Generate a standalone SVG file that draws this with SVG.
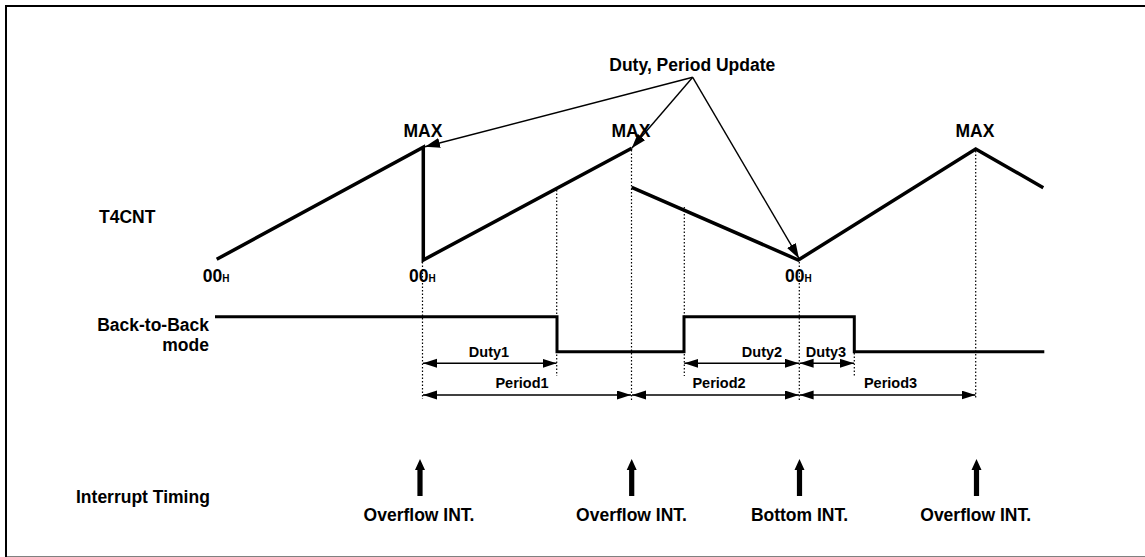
<svg xmlns="http://www.w3.org/2000/svg" width="1145" height="557" viewBox="0 0 1145 557">
<style>
text{font-family:"Liberation Sans",Arial,sans-serif;font-weight:bold;fill:#000}
.lbl{font-size:17.5px}
.dim{font-size:14.5px}
.wave{fill:none;stroke:#000;stroke-width:3.5;stroke-linejoin:miter}
.sq{fill:none;stroke:#000;stroke-width:3}
.dot{stroke:#000;stroke-width:1.2;stroke-dasharray:1.5 2;fill:none}
.call{stroke:#000;stroke-width:1.4;fill:none;marker-end:url(#ah)}
.dimln{stroke:#000;stroke-width:1.6;fill:none;marker-start:url(#dh);marker-end:url(#dh)}
</style>
<defs>
<marker id="ah" markerUnits="userSpaceOnUse" markerWidth="16" markerHeight="11" refX="15" refY="5" orient="auto"><path d="M0,0 L15,5 L0,10 z" fill="#000"/></marker>
<marker id="dh" markerUnits="userSpaceOnUse" markerWidth="15" markerHeight="10" refX="14" refY="4.5" orient="auto-start-reverse"><path d="M0,0 L14,4.5 L0,9 z" fill="#000"/></marker>
<path id="intarrow" d="M-2.6,496 L-2.6,470 L-5,470 L0,459 L5,470 L2.6,470 L2.6,496 z" fill="#000"/>
</defs>
<rect x="6" y="6" width="1150" height="551.5" fill="#fff" stroke="#000" stroke-width="2"/>

<g id="labels-left">
<text class="lbl" x="99" y="223.3">T4CNT</text>
<text class="lbl" x="209" y="330.7" text-anchor="end">Back-to-Back</text>
<text class="lbl" x="209" y="350.7" text-anchor="end">mode</text>
<text class="lbl" x="76" y="502.5">Interrupt Timing</text>
</g>

<g id="counter">
<polyline class="wave" points="216.7,259.3 423.3,147.3 423.3,260 631.7,148.3"/>
<polyline class="wave" points="631.7,187.3 798.3,260 975.7,149 1043.3,187.7"/>
<text class="lbl" x="423" y="137" text-anchor="middle">MAX</text>
<text class="lbl" x="631" y="137" text-anchor="middle">MAX</text>
<text class="lbl" x="975" y="137" text-anchor="middle">MAX</text>
<text class="lbl" x="202.7" y="281.7">00<tspan font-size="10">H</tspan></text>
<text class="lbl" x="409" y="281.7">00<tspan font-size="10">H</tspan></text>
<text class="lbl" x="785" y="281.7">00<tspan font-size="10">H</tspan></text>
</g>

<g id="update">
<text class="lbl" x="609.3" y="70.7">Duty, Period Update</text>
</g>

<g id="backtoback">
<polyline class="sq" points="215,316.7 557,316.7 557,351.7 684,351.7 684,316.7 854.3,316.7 854.3,351.7 1044.3,351.7"/>
</g>

<g id="guides">
<line class="dot" x1="422.5" y1="262" x2="422.5" y2="399"/>
<line class="dot" x1="556.7" y1="190" x2="556.7" y2="376"/>
<line class="dot" x1="631.5" y1="150" x2="631.5" y2="400"/>
<line class="dot" x1="684.3" y1="207" x2="684.3" y2="376"/>
<line class="dot" x1="799.3" y1="262" x2="799.3" y2="400"/>
<line class="dot" x1="854.3" y1="353" x2="854.3" y2="376"/>
<line class="dot" x1="975.7" y1="151" x2="975.7" y2="399"/>
</g>

<g id="connectors">
<line class="call" x1="692.7" y1="77.3" x2="425" y2="146.7"/>
<line class="call" x1="692.7" y1="77.3" x2="631.7" y2="148.3"/>
<line class="call" x1="692.7" y1="77.3" x2="799" y2="258.5"/>
<line class="dimln" x1="423" y1="363.3" x2="556.5" y2="363.3"/>
<line class="dimln" x1="684.3" y1="363.3" x2="799" y2="363.3"/>
<line class="dimln" x1="799.6" y1="363.3" x2="854" y2="363.3"/>
<line class="dimln" x1="423" y1="395" x2="631" y2="395"/>
<line class="dimln" x1="632" y1="395" x2="799" y2="395"/>
<line class="dimln" x1="799.6" y1="395" x2="975.5" y2="395"/>
</g>

<g id="dim-labels">
<text class="dim" x="489" y="356.7" text-anchor="middle">Duty1</text>
<text class="dim" x="762" y="356.7" text-anchor="middle">Duty2</text>
<text class="dim" x="826" y="356.7" text-anchor="middle">Duty3</text>
<text class="dim" x="522" y="387.7" text-anchor="middle">Period1</text>
<text class="dim" x="719" y="387.7" text-anchor="middle">Period2</text>
<text class="dim" x="890.5" y="387.7" text-anchor="middle">Period3</text>
</g>

<g id="int1"><use href="#intarrow" x="420"/><text class="lbl" x="419" y="520.7" text-anchor="middle">Overflow INT.</text></g>
<g id="int2"><use href="#intarrow" x="631.7"/><text class="lbl" x="631.5" y="520.7" text-anchor="middle">Overflow INT.</text></g>
<g id="int3"><use href="#intarrow" x="799.5"/><text class="lbl" x="799.5" y="520.7" text-anchor="middle">Bottom INT.</text></g>
<g id="int4"><use href="#intarrow" x="976.5"/><text class="lbl" x="975.7" y="520.7" text-anchor="middle">Overflow INT.</text></g>
</svg>
